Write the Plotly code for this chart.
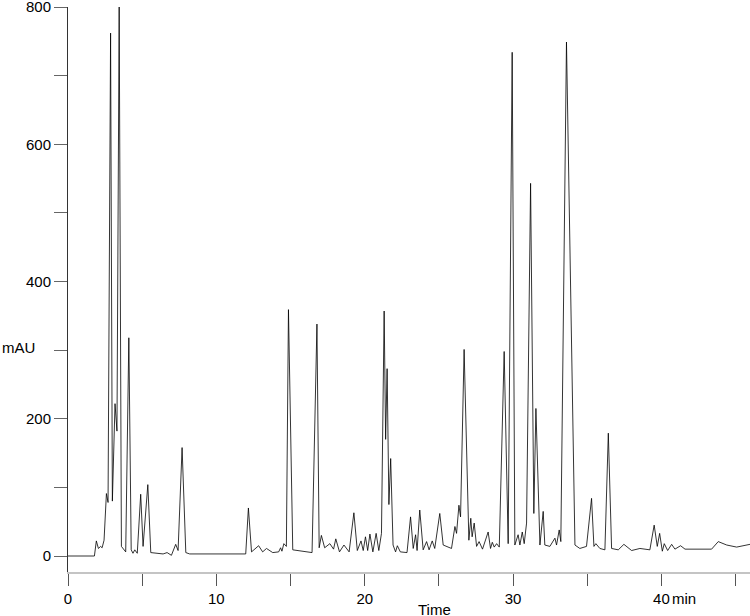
import plotly.graph_objects as go

# Chromatogram vertices (time in min, absorbance in mAU)
time_min = [
    0, 1.78, 1.91, 2.05, 2.2, 2.3, 2.43, 2.59, 2.7, 2.87, 2.99, 3.17, 3.3, 3.45, 3.6, 3.89,
    4.1, 4.26, 4.38, 4.5, 4.67, 4.9, 5.06, 5.38, 5.58, 6.41, 6.68, 6.97, 7.26, 7.42, 7.69,
    7.94, 8.2, 11.98, 12.16, 12.37, 12.85, 13.12, 13.38, 13.8, 14.2, 14.33, 14.42, 14.55,
    14.72, 14.86, 15.15, 15.8, 16.45, 16.78, 16.93, 17.08, 17.3, 17.65, 17.9, 18.05, 18.3,
    18.6, 18.95, 19.27, 19.5, 19.75, 19.9, 20.05, 20.2, 20.35, 20.55, 20.77, 20.95, 21.13,
    21.31, 21.41, 21.51, 21.63, 21.75, 21.91, 22.08, 22.2, 22.4, 22.85, 23.09, 23.27, 23.43,
    23.53, 23.71, 23.94, 24.17, 24.34, 24.55, 24.72, 25.06, 25.29, 25.85, 26.08, 26.19,
    26.35, 26.46, 26.7, 27.02, 27.15, 27.24, 27.38, 27.54, 27.71, 27.94, 28.32, 28.48,
    28.6, 28.73, 28.89, 29.07, 29.4, 29.67, 29.94, 30.12, 30.34, 30.46, 30.62, 30.75,
    30.91, 31.18, 31.4, 31.54, 31.81, 32.03, 32.14, 32.48, 32.82, 32.93, 33.11, 33.22,
    33.6, 34.17, 34.5, 34.95, 35.29, 35.45, 35.58, 35.85, 36.19, 36.42, 36.64, 37.09,
    37.47, 37.99, 38.55, 39.22, 39.51, 39.72, 39.88, 40.06, 40.19, 40.42, 40.69, 40.91,
    41.29, 41.59, 43.38, 43.83, 44.4, 45.07, 45.97,
]
absorbance_mau = [
    0, 0, 22, 11, 14, 12, 23, 91, 78, 762, 80, 222, 182, 800, 14, 6,
    318, 9, 4, 9, 4, 90, 14, 104, 5, 3, 5, 1, 17, 8, 158,
    5, 3, 3, 70, 6, 15, 6, 11, 5, 6, 12, 7, 18,
    14, 359, 9, 7, 5, 338, 12, 30, 12, 18, 10, 25, 6,
    16, 6, 63, 8, 22, 8, 28, 8, 32, 6, 33, 8, 33,
    357, 170, 273, 75, 142, 16, 6, 15, 6, 5, 57, 11, 31,
    8, 67, 9, 21, 9, 22, 11, 62, 16, 11, 43, 33,
    74, 57, 301, 23, 55, 28, 48, 14, 21, 10, 35, 11,
    20, 13, 18, 13, 298, 18, 734, 16, 31, 16, 35, 18,
    48, 543, 62, 215, 16, 65, 16, 14, 26, 16, 38, 21,
    749, 16, 11, 14, 84, 14, 18, 11, 9, 179, 11, 9,
    17, 8, 11, 9, 45, 14, 33, 7, 18, 8, 17, 10,
    15, 10, 10, 21, 16, 13, 17,
]

x_tickvals = [0, 5, 10, 15, 20, 25, 30, 35, 40, 45]
x_ticktext = ["0", "", "10", "", "20", "", "30", "", "40", ""]
y_tickvals = [0, 100, 200, 300, 400, 500, 600, 700, 800]
y_ticktext = ["0", "", "200", "", "400", "", "600", "", "800"]

FONT = "Liberation Sans, Arial, Helvetica, sans-serif"

fig = go.Figure()
fig.add_trace(go.Scatter(
    x=time_min, y=absorbance_mau, mode="lines",
    line=dict(color="#000000", width=0.8), hoverinfo="skip", showlegend=False,
    cliponaxis=False,
))

fig.update_layout(
    width=750, height=616,
    margin=dict(l=68, r=0, t=7, b=44, autoexpand=False),
    paper_bgcolor="white", plot_bgcolor="white",
    font=dict(family=FONT, size=15, color="#000000"),
    xaxis=dict(
        range=[0, 45.97], tickmode="array", tickvals=x_tickvals, ticktext=x_ticktext,
        ticks="outside", ticklen=12, tickcolor="#555555", tickwidth=1,
        showline=True, linecolor="#c4c4c4", linewidth=1.5, automargin=False,
        showgrid=False, zeroline=False, tickfont=dict(size=15),
        ticklabeloverflow="allow",
    ),
    yaxis=dict(
        range=[-23.3, 800.01], tickmode="array", tickvals=y_tickvals, ticktext=y_ticktext,
        ticks="outside", ticklen=13, tickcolor="#666666", tickwidth=1,
        showline=True, linecolor="#333333", linewidth=1, automargin=False,
        showgrid=False, zeroline=False, tickfont=dict(size=15),
        ticklabeloverflow="allow",
    ),
    annotations=[
        dict(text="mAU", xref="paper", yref="y", x=-68 / 682, y=304,
             xanchor="left", yanchor="middle", showarrow=False, font=dict(size=15)),
        dict(text="Time", xref="x", yref="paper", x=24.7, y=-0.0475,
             xanchor="center", yanchor="top", showarrow=False, font=dict(size=15)),
        dict(text="min", xref="x", yref="paper", x=40.55, y=-0.0285,
             xanchor="left", yanchor="top", showarrow=False, font=dict(size=15)),
    ],
)

fig.write_html(
    "out.html",
    config={"displayModeBar": False, "staticPlot": True},
    post_script="document.body.style.margin='0';document.body.style.overflow='hidden';",
)
